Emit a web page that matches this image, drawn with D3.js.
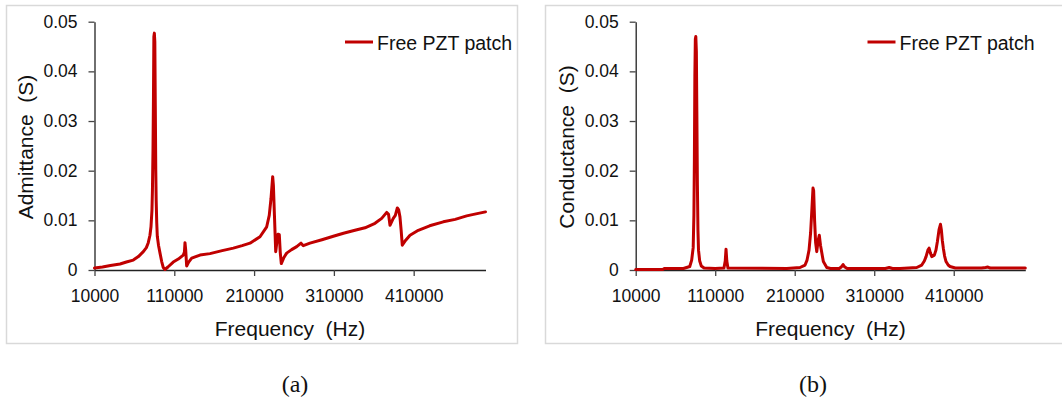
<!DOCTYPE html>
<html>
<head>
<meta charset="utf-8">
<script src="https://cdn.jsdelivr.net/npm/d3@7"></script>
<style>
  html, body { margin: 0; padding: 0; background: #fff; }
  svg { display: block; }
  text { font-family: "Liberation Sans", Arial, sans-serif; fill: #111; }
</style>
</head>
<body>
<svg id="chart" width="1062" height="400"></svg>
<script>
// ---------- DATA ----------
const xTicks = [10000, 110000, 210000, 310000, 410000];
const yTicks = [0, 0.01, 0.02, 0.03, 0.04, 0.05];
const yTickLabels = ["0", "0.01", "0.02", "0.03", "0.04", "0.05"];
const seriesName = "Free PZT patch";
const captions = ["(a)", "(b)"];
const yTitles = ["Admittance  (S)", "Conductance  (S)"];
const xTitle = "Frequency  (Hz)";

const admFreq = [10000, 20000, 30000, 42000, 50000, 58600, 65000, 71200, 75000, 77400, 79500, 80800, 82000, 82600, 83300, 83900, 84400, 85000, 85600, 86200, 86800, 87300, 88000, 88700, 90200, 92100, 94200, 96200, 98300, 102000, 108700, 115000, 121300, 122700, 123400, 124300, 125500, 128000, 131800, 142200, 154700, 170000, 184000, 195000, 204900, 217400, 225800, 229000, 231200, 233300, 234200, 235500, 237100, 238800, 240000, 241600, 242800, 244100, 247000, 250800, 257000, 263400, 268800, 271700, 280000, 295000, 309300, 322000, 336400, 349000, 361500, 369900, 376200, 378500, 380300, 384400, 387000, 389500, 391200, 392800, 394300, 395700, 400000, 405400, 415800, 430000, 447100, 462000, 476400, 488000, 500000];
const admVal = [0.0004, 0.0006, 0.0009, 0.0012, 0.0016, 0.0020, 0.0027, 0.0037, 0.0045, 0.0055, 0.0070, 0.0087, 0.0120, 0.0160, 0.0240, 0.0350, 0.0470, 0.0477, 0.0460, 0.0330, 0.0200, 0.0140, 0.0095, 0.0068, 0.0050, 0.0034, 0.0017, 0.0005, 0.0001, 0.0006, 0.0016, 0.0022, 0.0030, 0.0036, 0.0055, 0.0040, 0.0008, 0.0016, 0.0024, 0.0030, 0.0033, 0.0039, 0.0044, 0.0049, 0.0054, 0.0067, 0.0087, 0.0110, 0.0144, 0.0188, 0.0170, 0.0110, 0.0037, 0.0060, 0.0072, 0.0071, 0.0035, 0.0013, 0.0024, 0.0034, 0.0041, 0.0047, 0.0054, 0.0049, 0.0054, 0.0061, 0.0068, 0.0074, 0.0080, 0.0085, 0.0094, 0.0104, 0.0116, 0.0112, 0.0090, 0.0104, 0.0110, 0.0125, 0.0121, 0.0107, 0.0080, 0.0050, 0.0060, 0.0070, 0.0080, 0.0089, 0.0097, 0.0102, 0.0109, 0.0113, 0.0117];

const condFreq = [10000, 44000, 46000, 70000, 78000, 80400, 82300, 83200, 83800, 84400, 85000, 85600, 86300, 86900, 87600, 88300, 89000, 90500, 92500, 96000, 110000, 121000, 122600, 123600, 124600, 126000, 200000, 216700, 223000, 225500, 228000, 230000, 231700, 233000, 233800, 235000, 236300, 237700, 239500, 240900, 242400, 244000, 246000, 250300, 255000, 266000, 268500, 270800, 273000, 276000, 324000, 328800, 333000, 342500, 363500, 369800, 373000, 375200, 377500, 379000, 380500, 382300, 385600, 387600, 389400, 391600, 393300, 394500, 395600, 396900, 398500, 400300, 403000, 405300, 412000, 445000, 450000, 453000, 456000, 500000];
const condVal = [0.0001, 0.0001, 0.0003, 0.0003, 0.0007, 0.0020, 0.0045, 0.0110, 0.0220, 0.0390, 0.0465, 0.0470, 0.0440, 0.0320, 0.0170, 0.0080, 0.0040, 0.0018, 0.0008, 0.0004, 0.0003, 0.0004, 0.0018, 0.0042, 0.0018, 0.0004, 0.0003, 0.0005, 0.0010, 0.0020, 0.0040, 0.0075, 0.0125, 0.0165, 0.0160, 0.0100, 0.0055, 0.0037, 0.0060, 0.0070, 0.0050, 0.0035, 0.0017, 0.0005, 0.0003, 0.0003, 0.0006, 0.0011, 0.0006, 0.0003, 0.0003, 0.0005, 0.0003, 0.0003, 0.0005, 0.0010, 0.0018, 0.0027, 0.0040, 0.0044, 0.0035, 0.0027, 0.0030, 0.0040, 0.0057, 0.0082, 0.0092, 0.0080, 0.0060, 0.0044, 0.0028, 0.0017, 0.0010, 0.0007, 0.0004, 0.0004, 0.0005, 0.0006, 0.0004, 0.0004];

// ---------- LAYOUT ----------
const svg = d3.select("#chart");
const LINE = "#c00000";

const panels = [
  { freq: admFreq, val: admVal, frame: [6.5, 5.5, 511, 338], x0: 94.5, x1: 485.5, yTitleX: 33, legX: 345, caption: 295, yTitle: yTitles[0] },
  { freq: condFreq, val: condVal, frame: [545.5, 5.5, 530, 338], x0: 635.7, x1: 1025.3, yTitleX: 574, legX: 867.5, caption: 813, yTitle: yTitles[1] }
];

const yTop = 21.7, yBot = 270;

panels.forEach((p, i) => {
  const g = svg.append("g");
  g.append("rect")
    .attr("x", p.frame[0]).attr("y", p.frame[1])
    .attr("width", p.frame[2]).attr("height", p.frame[3])
    .attr("fill", "none").attr("stroke", "#d9d9d9").attr("stroke-width", 1.5);

  const x = d3.scaleLinear().domain([10000, 500000]).range([p.x0, p.x1]);
  const y = d3.scaleLinear().domain([0, 0.05]).range([yBot, yTop]);

  const xAxis = d3.axisBottom(x).tickValues(xTicks).tickFormat(d3.format("d"))
    .tickSizeInner(6).tickSizeOuter(0).tickPadding(14);
  const gx = g.append("g").attr("transform", `translate(0,${yBot})`).call(xAxis);
  gx.selectAll("text").style("font-size", "17.5px").attr("fill", "#111");

  const yAxis = d3.axisLeft(y).tickValues(yTicks).tickFormat((d, k) => yTickLabels[k])
    .tickSizeInner(6).tickSizeOuter(0).tickPadding(11);
  const gy = g.append("g").attr("transform", `translate(${p.x0},0)`).call(yAxis);
  gy.selectAll("text").style("font-size", "17.5px").attr("fill", "#111");

  [gx, gy].forEach(a => {
    a.select(".domain").attr("stroke", "#222").attr("stroke-width", 1.3);
    a.selectAll(".tick line").attr("stroke", "#444").attr("stroke-width", 1.3);
  });

  const line = d3.line().x((d, k) => x(p.freq[k])).y((d, k) => y(p.val[k]));
  g.append("path").datum(p.val).attr("d", line)
    .attr("fill", "none").attr("stroke", LINE).attr("stroke-width", 3)
    .attr("stroke-linejoin", "round").attr("stroke-linecap", "round");

  // axis titles
  g.append("text").attr("x", (p.x0 + p.x1) / 2).attr("y", 336)
    .attr("text-anchor", "middle").style("font-size", "21px").style("white-space", "pre")
    .text(xTitle);
  g.append("text").attr("transform", `translate(${p.yTitleX},147) rotate(-90)`)
    .attr("text-anchor", "middle").style("font-size", "21px").style("white-space", "pre")
    .text(p.yTitle);

  // legend
  g.append("line").attr("x1", p.legX).attr("x2", p.legX + 28)
    .attr("y1", 42).attr("y2", 42).attr("stroke", LINE).attr("stroke-width", 3);
  g.append("text").attr("x", p.legX + 32).attr("y", 49.5)
    .style("font-size", "19.5px").text(seriesName);

  // caption
  g.append("text").attr("x", p.caption).attr("y", 392).attr("text-anchor", "middle")
    .style("font-family", "'Liberation Serif', 'DejaVu Serif', serif").style("font-size", "24px")
    .text(captions[i]);
});
</script>
</body>
</html>
